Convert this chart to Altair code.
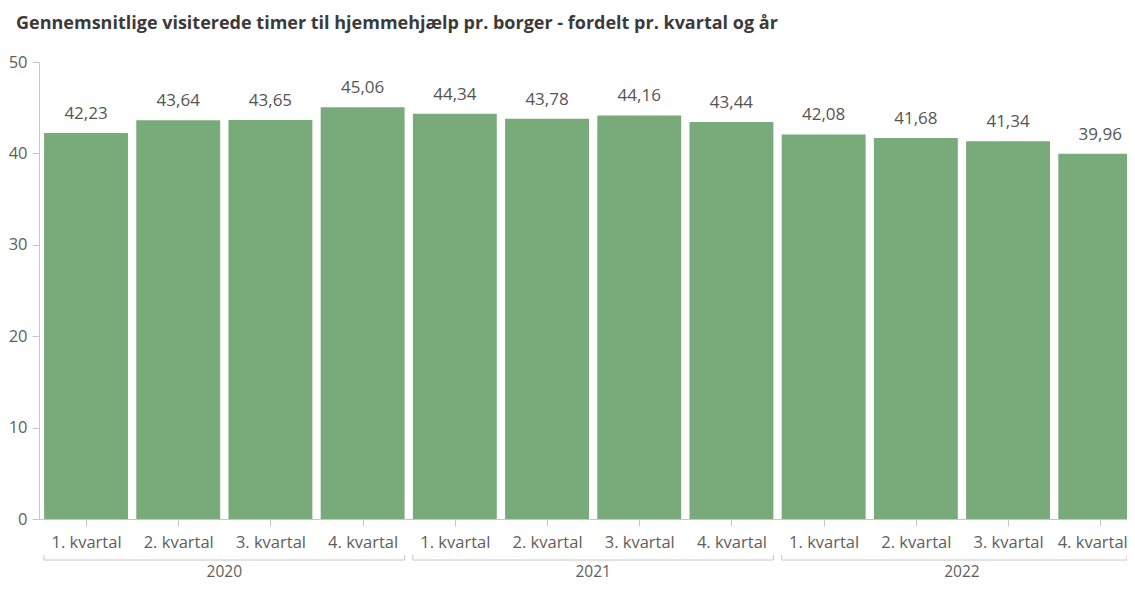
import json
import altair as alt
import pandas as pd

# ---- data ----
years = ["2020", "2020", "2020", "2020",
         "2021", "2021", "2021", "2021",
         "2022", "2022", "2022", "2022"]
quarters = ["1. kvartal", "2. kvartal", "3. kvartal", "4. kvartal",
            "1. kvartal", "2. kvartal", "3. kvartal", "4. kvartal",
            "1. kvartal", "2. kvartal", "3. kvartal", "4. kvartal"]
values = [42.23, 43.64, 43.65, 45.06,
          44.34, 43.78, 44.16, 43.44,
          42.08, 41.68, 41.34, 39.96]
y_ticks = [0, 10, 20, 30, 40, 50]
title_text = "Gennemsnitlige visiterede timer til hjemmehjælp pr. borger - fordelt pr. kvartal og år"

FONT = "Open Sans"
BAR = "#79aa79"
GRAY = "#c8c6c4"
LABEL = "#605e5c"
HALF = 0.455
PLOT_H = 457
LAST = len(values) - 1

df = pd.DataFrame({"idx": list(range(len(values))), "year": years,
                   "quarter": quarters, "value": values})
yd = df.groupby("year")["idx"].agg(["min", "max"]).reset_index()
yd["s"] = yd["min"] - HALF
yd["e"] = yd["max"] + HALF
yd["mid"] = (yd["min"] + yd["max"]) / 2
ends = pd.concat([yd[["year", "s"]].rename(columns={"s": "p"}),
                  yd[["year", "e"]].rename(columns={"e": "p"})])

xscale = alt.Scale(domain=[-0.51, 11.29], clamp=True, nice=False, zero=False)
yscale = alt.Scale(domain=[0, 50], nice=False)

xaxis = alt.Axis(values=list(range(len(values))),
                 labelExpr=json.dumps(quarters) + "[datum.value]",
                 title=None, grid=False, domainColor=GRAY, tickColor=GRAY,
                 tickSize=7, labelPadding=8, labelFont=FONT, labelFontSize=16.5,
                 labelColor=LABEL, labelBaseline="top",
                 labelAlign=alt.condition(f"datum.value == {LAST}", alt.value("right"), alt.value("center")),
                 labelOffset=alt.condition(f"datum.value == {LAST}", alt.value(27), alt.value(0)),
                 labelBound=False, labelOverlap=False)
yaxis = alt.Axis(values=y_ticks, title=None, grid=False, domainColor=GRAY,
                 tickColor=GRAY, tickSize=7, labelPadding=5, labelFont=FONT,
                 labelFontSize=16.5, labelColor=LABEL)

X = lambda f: alt.X(f, scale=xscale, axis=xaxis)

bars = alt.Chart(df).transform_calculate(
    x0=f"datum.idx - {HALF}", x1=f"datum.idx + {HALF}"
).mark_bar(color=BAR).encode(
    x=X("x0:Q"), x2="x1:Q",
    y=alt.Y("value:Q", scale=yscale, axis=yaxis), y2=alt.datum(0),
)

labels = alt.Chart(df).transform_calculate(
    lab="replace(format(datum.value, '.2f'), '.', ',')"
).mark_text(font=FONT, fontSize=17, color="#555555", baseline="alphabetic", dy=-14).encode(
    x=X("idx:Q"),
    y=alt.Y("value:Q", scale=yscale, axis=yaxis),
    text="lab:N",
)

brackets = alt.Chart(yd).mark_rule(color=GRAY, strokeWidth=1).encode(
    x=X("s:Q"), x2="e:Q", y=alt.value(PLOT_H + 41),
)
bracket_ends = alt.Chart(ends).mark_rule(color=GRAY, strokeWidth=1).encode(
    x=X("p:Q"), y=alt.value(PLOT_H + 36), y2=alt.value(PLOT_H + 41),
)
year_text = alt.Chart(yd).mark_text(font=FONT, fontSize=15.5, color=LABEL,
                                    baseline="middle").encode(
    x=X("mid:Q"), y=alt.value(PLOT_H + 53), text="year:N",
)

chart = alt.layer(bars, labels, brackets, bracket_ends, year_text).properties(
    width=1088, height=PLOT_H,
    title=alt.TitleParams(title_text, anchor="start", frame="group", dx=-23,
                          fontSize=18, fontWeight="bold", font=FONT,
                          color="#3b3a39", baseline="alphabetic", offset=7),
    autosize=alt.AutoSizeParams(type="none"),
    padding={"left": 31, "top": 54, "right": 0, "bottom": 64},
).configure(background="white").configure_view(stroke=None)

chart.save("out.html", embed_options={"renderer": "svg", "actions": False})
